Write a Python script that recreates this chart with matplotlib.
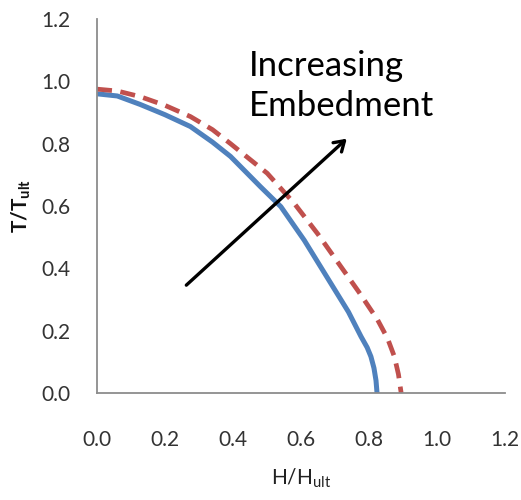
import matplotlib
matplotlib.use("Agg")
import matplotlib.pyplot as plt

plt.rcParams['font.family'] = ['Lato', 'DejaVu Sans']
plt.rcParams['mathtext.default'] = 'regular'

# Shallow embedment curve (blue, solid)
h_blue = [0.0, 0.06, 0.127, 0.2, 0.275, 0.34, 0.393, 0.452, 0.481, 0.541, 0.61, 0.688, 0.74, 0.777, 0.795, 0.806, 0.815, 0.821, 0.824]
t_blue = [0.96, 0.953, 0.926, 0.893, 0.855, 0.805, 0.759, 0.694, 0.662, 0.598, 0.49, 0.352, 0.26, 0.181, 0.146, 0.117, 0.08, 0.04, 0.0]

# Deeper embedment curve (red, dashed)
h_red = [0.0, 0.06, 0.127, 0.2, 0.275, 0.34, 0.393, 0.452, 0.501, 0.58, 0.65, 0.718, 0.77, 0.826, 0.855, 0.875, 0.887, 0.895]
t_red = [0.975, 0.969, 0.951, 0.923, 0.887, 0.845, 0.80, 0.748, 0.705, 0.609, 0.51, 0.405, 0.325, 0.234, 0.175, 0.117, 0.06, 0.0]

ticks = [0.0, 0.2, 0.4, 0.6, 0.8, 1.0, 1.2]
tick_labels = ['0.0', '0.2', '0.4', '0.6', '0.8', '1.0', '1.2']

fig = plt.figure(figsize=(5.21, 5.0), dpi=100)
ax = fig.add_axes([0.186, 0.214, 0.783, 0.748])

ax.plot(h_blue, t_blue, color='#4F81BD', lw=3.6, solid_joinstyle='round')
ax.plot(h_red, t_red, color='#C0504D', lw=3.4, dashes=(3.2, 1.8))

ax.annotate('', xy=(0.741, 0.822), xytext=(0.257, 0.34),
            arrowprops=dict(arrowstyle='->,head_length=0.7,head_width=0.45',
                            color='black', lw=2.4))
ax.text(0.447, 1.10, 'Increasing\nEmbedment', fontsize=25, color='black',
        ha='left', va='top', linespacing=1.3)

ax.set_xlim(0, 1.2)
ax.set_ylim(0, 1.2)
ax.set_xticks(ticks)
ax.set_xticklabels(tick_labels)
ax.set_yticks(ticks)
ax.set_yticklabels(tick_labels)
ax.tick_params(axis='both', length=0, labelsize=15, colors='#333333')
ax.tick_params(axis='x', pad=27)
ax.tick_params(axis='y', pad=19)

for s in ['top', 'right']:
    ax.spines[s].set_visible(False)
for s in ['left', 'bottom']:
    ax.spines[s].set_color('#8c8c8c')
    ax.spines[s].set_linewidth(1.3)

ax.set_xlabel(r'H/H$_{\mathregular{ult}}$', fontsize=15, color='#222222', labelpad=12)
ax.set_ylabel(r'T/T$_{\mathregular{ult}}$', fontsize=15, fontweight='bold',
              color='#111111', labelpad=6)

fig.savefig('out.png', dpi=100)
